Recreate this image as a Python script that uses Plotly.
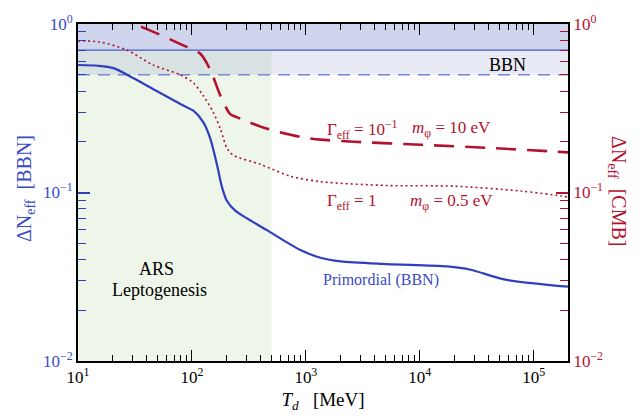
import numpy as np
import plotly.graph_objects as go

# ---------------- data ----------------
T_primordial = [10, 15, 20.5, 30.5, 49, 84, 103, 126, 145, 166, 184, 203, 240, 459, 895, 1343, 2014, 5190, 17500, 28000, 55000, 200000]
dN_primordial = [0.571, 0.565, 0.547, 0.478, 0.40, 0.328, 0.306, 0.261, 0.209, 0.146, 0.107, 0.089, 0.078, 0.0596, 0.0456, 0.041, 0.039, 0.0376, 0.0364, 0.0348, 0.0305, 0.0276]

T_dotted = [10, 15.6, 27, 45.6, 78.6, 103, 126, 154, 178, 204, 233, 398, 730, 1343, 5190, 19800, 77300, 174000, 200000]
dN_dotted = [0.793, 0.782, 0.699, 0.571, 0.50, 0.447, 0.375, 0.299, 0.238, 0.182, 0.166, 0.147, 0.125, 0.116, 0.110, 0.109, 0.102, 0.0954, 0.094]

T_dashed = [20, 30.5, 40, 84, 118, 145, 178, 217, 250, 459, 895, 1343, 2650, 10200, 39800, 152000, 200000]
dN_dashed = [1.13, 1.0, 0.935, 0.747, 0.668, 0.534, 0.375, 0.292, 0.279, 0.239, 0.214, 0.206, 0.200, 0.192, 0.184, 0.175, 0.173]

T_range = [10, 200000]
bbn_solid = 0.7
bbn_dashed = 0.5
dN_top = 1.0
dN_bottom = 0.01
ars_T_max = 500

x_tickvals = [10, 100, 1000, 10000, 100000]
x_ticktext = ["10<sup>1</sup>", "10<sup>2</sup>", "10<sup>3</sup>", "10<sup>4</sup>", "10<sup>5</sup>"]
y_tickvals = [0.01, 0.1, 1]
y_ticktext = ["10<sup>−2</sup>", "10<sup>−1</sup>", "10<sup>0</sup>"]

# ---------------- style ----------------
FONT = "Liberation Serif"
BLUE = "#2f3fbf"
BLUE_TXT = "#3a4bc6"
RED = "#b3122f"
GREEN_FILL = "#eef6ea"
BAND_LIGHT = "rgba(63,80,180,0.12)"
BAND_DARK = "#d0d5ee"

W, H = 640, 419
ML, MR, MT, MB = 78, 72, 20, 56
PW, PH = W - ML - MR, H - MT - MB

def px(xp):
    return (xp - ML) / PW

def py(yp):
    return (H - MB - yp) / PH

def fnt(size, color="black"):
    return dict(family=FONT, size=size, color=color)

fig = go.Figure()

# ARS leptogenesis region
fig.add_trace(go.Scatter(
    x=[T_range[0], ars_T_max, ars_T_max, T_range[0], T_range[0]],
    y=[dN_bottom, dN_bottom, bbn_solid, bbn_solid, dN_bottom],
    fill="toself", fillcolor=GREEN_FILL, line=dict(width=0), mode="lines",
    hoverinfo="skip", showlegend=False))
# light BBN band
fig.add_trace(go.Scatter(
    x=[T_range[0], T_range[1], T_range[1], T_range[0], T_range[0]],
    y=[bbn_dashed, bbn_dashed, dN_top, dN_top, bbn_dashed],
    fill="toself", fillcolor=BAND_LIGHT, line=dict(width=0), mode="lines",
    hoverinfo="skip", showlegend=False))
# dark BBN band
fig.add_trace(go.Scatter(
    x=[T_range[0], T_range[1], T_range[1], T_range[0], T_range[0]],
    y=[bbn_solid, bbn_solid, dN_top, dN_top, bbn_solid],
    fill="toself", fillcolor=BAND_DARK, line=dict(width=0), mode="lines",
    hoverinfo="skip", showlegend=False))
# limit lines
fig.add_trace(go.Scatter(x=T_range, y=[bbn_solid, bbn_solid], mode="lines",
                         line=dict(color="#4a58c4", width=1.3), showlegend=False))
fig.add_trace(go.Scatter(x=T_range, y=[bbn_dashed, bbn_dashed], mode="lines",
                         line=dict(color="#7785d6", width=1.5, dash="12px,8px"), showlegend=False))

# curves
fig.add_trace(go.Scatter(x=T_primordial, y=dN_primordial, mode="lines",
                         line=dict(color=BLUE, width=2.2, shape="spline", smoothing=0.8),
                         showlegend=False))
fig.add_trace(go.Scatter(x=T_dotted, y=dN_dotted, mode="lines", yaxis="y2",
                         line=dict(color=RED, width=1.6, dash="2px,3px", shape="spline", smoothing=0.8),
                         showlegend=False))
fig.add_trace(go.Scatter(x=T_dashed, y=dN_dashed, mode="lines", yaxis="y2",
                         line=dict(color=RED, width=2.6, dash="20px,11px", shape="spline", smoothing=0.8),
                         showlegend=False))
# invisible trace to activate the top x axis (tick mirror)
fig.add_trace(go.Scatter(x=T_range, y=[dN_bottom, dN_bottom], mode="lines", xaxis="x2",
                         line=dict(width=0), hoverinfo="skip", showlegend=False))

x_minor = [m * 10 ** k for k in range(1, 6) for m in range(2, 10) if m * 10 ** k < T_range[1]]
y_minor = [m * 10 ** k for k in (-2, -1) for m in range(2, 10)]

xr = [np.log10(T_range[0]), np.log10(T_range[1])]
yr = [np.log10(dN_bottom), np.log10(dN_top)]

xcommon = dict(
    type="log", range=xr, tickmode="array", tickvals=x_tickvals, ticktext=x_ticktext,
    ticks="inside", ticklen=11, tickwidth=1.3, tickcolor="black",
    minor=dict(tickmode="array", tickvals=x_minor, ticks="inside", ticklen=6,
               tickwidth=1.2, tickcolor="black", showgrid=False),
    showline=True, linecolor="black", linewidth=2,
    showgrid=False, zeroline=False, tickfont=fnt(17),
)

fig.update_layout(
    width=W, height=H,
    margin=dict(l=ML, r=MR, t=MT, b=MB),
    paper_bgcolor="white", plot_bgcolor="white",
    font=fnt(17),
    showlegend=False,
    xaxis=dict(**xcommon,
               title=dict(text="<i>T<sub>d</sub></i>\u00a0\u00a0\u00a0[MeV]", font=fnt(19), standoff=6)),
    xaxis2=dict(**xcommon, overlaying="x", side="top", showticklabels=False),
    yaxis=dict(
        type="log", range=yr, tickmode="array", tickvals=y_tickvals, ticktext=y_ticktext,
        ticks="inside", ticklen=12, tickwidth=1.5, tickcolor=BLUE,
        minor=dict(tickmode="array", tickvals=y_minor, ticks="inside", ticklen=8,
                   tickwidth=1.3, tickcolor=BLUE, showgrid=False),
        showline=True, linecolor="black", linewidth=2, mirror=False,
        showgrid=False, zeroline=False, tickfont=fnt(17, BLUE_TXT),
    ),
    yaxis2=dict(
        type="log", range=yr, overlaying="y", side="right", tickmode="array",
        tickvals=y_tickvals, ticktext=y_ticktext,
        ticks="inside", ticklen=12, tickwidth=1.5, tickcolor=RED,
        minor=dict(tickmode="array", tickvals=y_minor, ticks="inside", ticklen=8,
                   tickwidth=1.3, tickcolor=RED, showgrid=False),
        showline=True, linecolor="black", linewidth=2,
        showgrid=False, zeroline=False, tickfont=fnt(17, RED),
    ),
)

ann = [
    dict(text="ΔN<sub>eff</sub>\u00a0\u00a0[BBN]", x=px(25), y=py(188), textangle=-90,
         font=fnt(20, BLUE_TXT)),
    dict(text="ΔN<sub>eff</sub>\u00a0\u00a0[CMB]", x=px(618), y=py(190), textangle=90,
         font=fnt(20, RED)),
    dict(text="BBN", x=px(507), y=py(62), font=fnt(18)),
    dict(text="Γ<sub>eff</sub> = 10<sup>−1</sup>", x=px(325), y=py(127), xanchor="left",
         font=fnt(17, RED)),
    dict(text="<i>m</i><sub>φ</sub> = 10 eV", x=px(410), y=py(127), xanchor="left",
         font=fnt(17, RED)),
    dict(text="Γ<sub>eff</sub> = 1", x=px(325), y=py(201), xanchor="left",
         font=fnt(17, RED)),
    dict(text="<i>m</i><sub>φ</sub> = 0.5 eV", x=px(408), y=py(201), xanchor="left",
         font=fnt(17, RED)),
    dict(text="Primordial (BBN)", x=px(381), y=py(281), font=fnt(16, BLUE_TXT)),
    dict(text="ARS", x=px(156), y=py(269), font=fnt(18)),
    dict(text="Leptogenesis", x=px(159), y=py(291), font=fnt(18)),
]
for a in ann:
    a.update(xref="paper", yref="paper", showarrow=False)
    a.setdefault("xanchor", "center")
    a.setdefault("yanchor", "middle")
fig.update_layout(annotations=ann)

fig.write_html("out.html")
